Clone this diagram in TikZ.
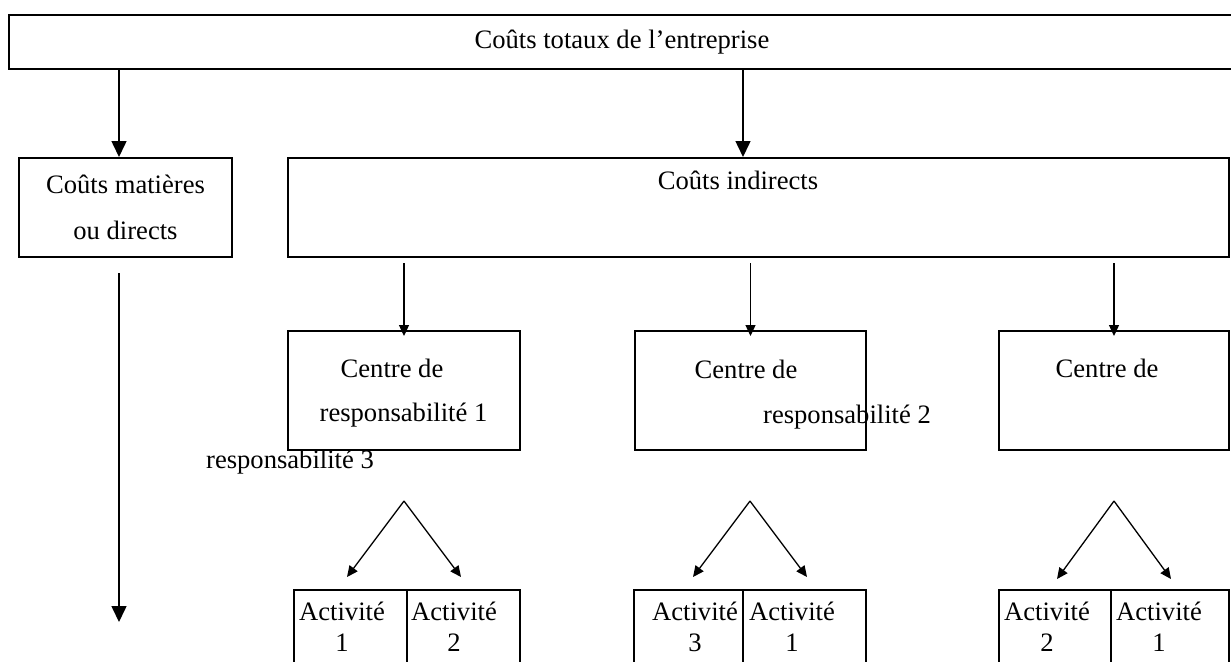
\documentclass[tikz,border=0pt]{standalone}
\usepackage{fontspec}
\setmainfont{Liberation Serif}
\usetikzlibrary{positioning, calc, arrows.meta}

\tikzset{
    box/.style={draw, line width=1pt, inner sep=0pt},
    cell/.style={draw, line width=0.8pt, inner sep=0pt, minimum width=#1, minimum height=55pt},
    txt/.style={inner sep=0pt},
    acttxt/.style={inner sep=0pt, align=center, font=\fontsize{13.3pt}{15.5pt}\selectfont},
    bigarrow/.style={line width=0.75pt, -{Triangle[length=8pt,width=7.5pt]}},
    smallarrow/.style={line width=0.65pt, -{Triangle[length=5.5pt,width=5pt]}}
}

\begin{document}
\begin{tikzpicture}[x=0.5pt, y=-0.5pt, font=\fontsize{13.3pt}{16pt}\selectfont]
        \useasboundingbox (0,0) rectangle (1231,661);
        \node[box, minimum width=618pt, minimum height=27pt] (total) at (627,42) {\hspace*{-5pt}Coûts totaux de l’entreprise};
        \node[box, align=center, minimum width=106.5pt, minimum height=49.5pt,
            font=\fontsize{13.3pt}{23pt}\selectfont] (direct) at (125.5,207.5) {Coûts matières\\ou directs};
        \node[box, minimum width=470.5pt, minimum height=49.5pt] (indirect) at (758.5,207.5) {};
        \node[txt] (indirecttxt) at (738,180) {Coûts indirects};

        \node[box, minimum width=116pt, minimum height=59.5pt] (centre1) at (404,390.5) {};
        \node[box, minimum width=115.5pt, minimum height=59.5pt] (centre2) at (750.5,390.5) {};
        \node[box, minimum width=115pt, minimum height=59.5pt] (centre3) at (1114,390.5) {};
        \node[txt] (centre1a) at (392,368) {Centre de};
        \node[txt] (centre1b) at (403.5,415) {responsabilité 1};
        \node[txt] (centre2a) at (746,369) {Centre de};
        \node[txt] (centre2b) at (847,417) {responsabilité 2};
        \node[txt] (centre3a) at (1107,368) {Centre de};
        \node[txt] (centre3b) at (290,462) {responsabilité 3};

        \node[cell=56.5pt] (act1) at (350.5,645) {};
        \node[cell=56.5pt] (act2) at (463.5,645) {};
        \node[cell=54.5pt] (act3) at (688.5,645) {};
        \node[cell=61.5pt] (act4) at (804.5,645) {};
        \node[cell=56pt] (act5) at (1055,645) {};
        \node[cell=59pt] (act6) at (1170,645) {};
        \node[acttxt] (act1txt) at (342,626.5) {Activité\\1};
        \node[acttxt] (act2txt) at (454,626.5) {Activité\\2};
        \node[acttxt] (act3txt) at (695,626.5) {Activité\\3};
        \node[acttxt] (act4txt) at (792,626.5) {Activité\\1};
        \node[acttxt] (act5txt) at (1047,626.5) {Activité\\2};
        \node[acttxt] (act6txt) at (1159,626.5) {Activité\\1};

        \coordinate (directin) at ([xshift=-3.25pt]direct.north);
        \coordinate (indirectin) at ([xshift=-7.75pt]indirect.north);
        \coordinate (directend) at (119,622);
        \draw[bigarrow] (directin |- total.south) -- (directin);
        \draw[bigarrow] (indirectin |- total.south) -- (indirectin);
        \draw[bigarrow, shorten <=7.5pt] (directin |- direct.south) -- (directend);
        \foreach \c in {centre1, centre2, centre3}
            \draw[smallarrow, shorten <=2.5pt, shorten >=-3pt] (\c.north |- indirect.south) -- (\c.north);
        \foreach \n/\x/\y in {1/404/577, 2/750/577, 3/1114/579} {
            \coordinate (apex\n) at (\x,501);
            \coordinate (tipl\n) at (\x-57,\y);
            \coordinate (tipr\n) at (\x+57,\y);
            \draw[smallarrow] (apex\n) -- (tipl\n);
            \draw[smallarrow] (apex\n) -- (tipr\n);
        }
\end{tikzpicture}
\end{document}
